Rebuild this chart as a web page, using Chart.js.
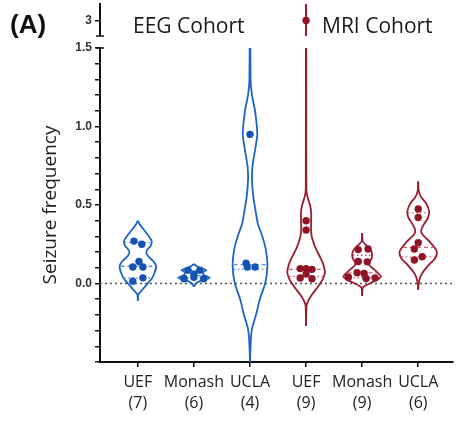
<!DOCTYPE html>
<html>
<head>
<meta charset="utf-8">
<script src="https://cdn.jsdelivr.net/npm/chart.js@4/dist/chart.umd.min.js"></script>
<style>
  html, body { margin: 0; padding: 0; background: #fff; }
  #wrap { position: relative; width: 457px; height: 422px; }
  #mainCanvas, #topCanvas { position: absolute; left: 0; top: 0; }
  #topCanvas { z-index: 2; }
</style>
</head>
<body>
<div id="wrap">
  <canvas id="mainCanvas" width="457" height="422"></canvas>
  <canvas id="topCanvas" width="457" height="40"></canvas>
</div>
<script>
// categories
var sites = ['UEF', 'Monash', 'UCLA', 'UEF', 'Monash', 'UCLA'];
var counts = [7, 6, 4, 9, 9, 6];
var cohortOf = [0, 0, 0, 1, 1, 1];
var cohortNames = ['EEG Cohort', 'MRI Cohort'];
var yTickLabels = [0, 0.5, 1.0, 1.5];
var topTickLabels = [3];

// seizure frequency per subject + horizontal jitter in category units
var uefEegValues = [0.27, 0.25, 0.14, 0.105, 0.105, 0.036, 0.015];
var uefEegJitter = [-0.07, 0.07, 0.02, -0.09, 0.09, 0.09, -0.09];
var monashEegValues = [0.085, 0.085, 0.06, 0.04, 0.03, 0.03];
var monashEegJitter = [-0.105, 0.105, 0, 0, -0.175, 0.175];
var uclaEegValues = [0.95, 0.13, 0.105, 0.105];
var uclaEegJitter = [0, -0.07, 0.09, -0.05];
var uefMriValues = [3.0, 0.40, 0.34, 0.095, 0.095, 0.09, 0.06, 0.035, 0.03];
var uefMriJitter = [0, 0, 0, -0.105, 0, 0.105, 0, -0.105, 0.105];
var monashMriValues = [0.216, 0.22, 0.14, 0.138, 0.068, 0.064, 0.04, 0.032, 0.036];
var monashMriJitter = [-0.07, 0.105, -0.07, 0.09, -0.09, 0.035, -0.245, 0.07, 0.23];
var uclaMriValues = [0.475, 0.42, 0.26, 0.22, 0.17, 0.15];
var uclaMriJitter = [0, 0, 0, -0.07, 0.07, -0.07];

// violin outlines: levels (y) and half widths (category units)
var uefEegLevels = [0.40, 0.38, 0.35, 0.31, 0.27, 0.24, 0.215, 0.195, 0.17, 0.14, 0.11, 0.07, 0.03, 0.0, -0.04, -0.07, -0.11];
var uefEegWidths = [0, 0.026, 0.088, 0.176, 0.247, 0.229, 0.168, 0.15, 0.194, 0.282, 0.326, 0.3, 0.247, 0.176, 0.08, 0.009, 0];
var monashEegLevels = [0.125, 0.11, 0.1, 0.085, 0.07, 0.055, 0.036, 0.025, 0.015, 0.0, -0.02];
var monashEegWidths = [0, 0.053, 0.106, 0.22, 0.159, 0.176, 0.282, 0.194, 0.106, 0.035, 0];
var uclaEegLevels = [1.9, 1.3, 1.2, 1.1, 0.95, 0.85, 0.75, 0.66, 0.55, 0.45, 0.38, 0.3, 0.22, 0.11, 0.0, -0.1, -0.19, -0.29, -0.36, -0.5, -0.6];
var uclaEegWidths = [0, 0.01, 0.035, 0.09, 0.13, 0.09, 0.045, 0.035, 0.06, 0.105, 0.14, 0.22, 0.28, 0.31, 0.27, 0.175, 0.115, 0.035, 0.015, 0, 0];
var uefMriLevels = [3.6, 0.6, 0.55, 0.5, 0.45, 0.38, 0.32, 0.27, 0.22, 0.17, 0.12, 0.07, 0.03, -0.02, -0.07, -0.1, -0.14, -0.27];
var uefMriWidths = [0, 0.005, 0.026, 0.07, 0.092, 0.088, 0.092, 0.123, 0.176, 0.247, 0.309, 0.335, 0.3, 0.212, 0.106, 0.053, 0.009, 0];
var monashMriLevels = [0.32, 0.27, 0.25, 0.22, 0.19, 0.16, 0.135, 0.115, 0.09, 0.06, 0.045, 0.025, 0.005, -0.015, -0.03, -0.08];
var monashMriWidths = [0, 0.009, 0.053, 0.141, 0.176, 0.168, 0.123, 0.132, 0.212, 0.3, 0.335, 0.282, 0.159, 0.053, 0.009, 0];
var uclaMriLevels = [0.65, 0.59, 0.55, 0.51, 0.46, 0.42, 0.38, 0.34, 0.31, 0.27, 0.22, 0.195, 0.16, 0.12, 0.08, 0.04, 0.0, -0.04];
var uclaMriWidths = [0, 0.009, 0.053, 0.141, 0.194, 0.176, 0.106, 0.053, 0.079, 0.194, 0.309, 0.335, 0.3, 0.194, 0.097, 0.035, 0.009, 0];

// quartiles [q1, median, q3]
var uefEegQuart = [0.035, 0.11, 0.26];
var monashEegQuart = [0.035, 0.05, 0.08];
var uclaEegQuart = [0.09, 0.12, 0.74];
var uefMriQuart = [0.045, 0.09, 0.36];
var monashMriQuart = [0.036, 0.068, 0.18];
var uclaMriQuart = [0.17, 0.23, 0.45];

var groups = [
    { values: uefEegValues, jitter: uefEegJitter, levels: uefEegLevels, widths: uefEegWidths, quart: uefEegQuart },
    { values: monashEegValues, jitter: monashEegJitter, levels: monashEegLevels, widths: monashEegWidths, quart: monashEegQuart },
    { values: uclaEegValues, jitter: uclaEegJitter, levels: uclaEegLevels, widths: uclaEegWidths, quart: uclaEegQuart },
    { values: uefMriValues, jitter: uefMriJitter, levels: uefMriLevels, widths: uefMriWidths, quart: uefMriQuart },
    { values: monashMriValues, jitter: monashMriJitter, levels: monashMriLevels, widths: monashMriWidths, quart: monashMriQuart },
    { values: uclaMriValues, jitter: uclaMriJitter, levels: uclaMriLevels, widths: uclaMriWidths, quart: uclaMriQuart }
];

var X_MIN = 0.325, X_MAX = 6.62;
var palette = [
    { line: '#1f63c6', dot: '#1553b3', quart: '#5d95e2' },   // EEG blue
    { line: '#9b1b30', dot: '#8f1426', quart: '#c8606f' }    // MRI dark red
];

function widthAt(levels, widths, v) {
    for (var i = 0; i < levels.length - 1; i++) {
        var a = levels[i], b = levels[i + 1];
        if (v <= a && v >= b) {
            var t = (a - v) / (a - b);
            return widths[i] + t * (widths[i + 1] - widths[i]);
        }
    }
    return 0;
}

function buildDatasets() {
    var ds = [];
    groups.forEach(function (g, i) {
        var c = i + 1;
        var col = palette[cohortOf[i]];

        // dots first so they sit on top
        ds.push({
            data: g.values.map(function (v, k) { return { x: c + g.jitter[k], y: v }; }),
            showLine: false,
            pointRadius: 3.7,
            pointBackgroundColor: col.dot,
            pointBorderWidth: 0
        });

        // median (dashed) and quartiles (dotted)
        g.quart.forEach(function (q, k) {
            var hw = widthAt(g.levels, g.widths, q) * 0.95;
            ds.push({
                data: [{ x: c - hw, y: q }, { x: c + hw, y: q }],
                showLine: true,
                borderColor: col.quart,
                borderWidth: 1.3,
                borderDash: k === 1 ? [4, 3] : [1.5, 2.5],
                pointRadius: 0
            });
        });

        // outline: right and left halves
        var right = g.levels.map(function (v, k) { return { x: c + g.widths[k], y: v }; });
        var left = g.levels.map(function (v, k) { return { x: c - g.widths[k], y: v }; }).reverse();
        [right, left].forEach(function (half) {
            ds.push({
                data: half,
                showLine: true,
                borderColor: col.line,
                borderWidth: 1.8,
                pointRadius: 0,
                tension: 0.2
            });
        });

        // long thin tail running past the top of the axis
        var top = g.levels[0];
        if (top > 1.5) {
            ds.push({
                data: [{ x: c, y: g.levels[1] }, { x: c, y: top }],
                showLine: true,
                borderColor: col.line,
                borderWidth: 1.8,
                pointRadius: 0
            });
        }
    });

    // dotted zero reference line (drawn underneath)
    ds.push({
        data: [{ x: X_MIN, y: 0 }, { x: X_MAX, y: 0 }],
        showLine: true,
        borderColor: '#555',
        borderWidth: 1.5,
        borderDash: [2, 3],
        pointRadius: 0
    });
    return ds;
}

Chart.defaults.font.family = 'Open Sans';

var axisGrid = { drawOnChartArea: false, drawTicks: true, tickLength: 5, color: '#111', lineWidth: 1.5 };
var axisBorder = { color: '#111', width: 2 };
var numFont = { family: 'Liberation Sans', size: 12, weight: 'bold' };

var capPlugin = {
    id: 'axisCaps',
    afterDraw: function (chart, args, opts) {
        var ctx = chart.ctx, a = chart.chartArea;
        ctx.save();
        ctx.strokeStyle = '#111';
        ctx.lineWidth = 1.5;
        ctx.beginPath();
        var y = opts.where === 'bottom' ? a.bottom : a.top;
        ctx.moveTo(a.left - 4, y);
        ctx.lineTo(a.left + 4, y);
        ctx.stroke();
        ctx.restore();
    }
};

// main plot
new Chart(document.getElementById('mainCanvas').getContext('2d'), {
    type: 'scatter',
    data: { datasets: buildDatasets() },
    options: {
        responsive: false,
        animation: false,
        events: [],
        layout: { padding: { top: 48, left: 0, right: 0, bottom: 0 } },
        plugins: { legend: { display: false }, tooltip: { enabled: false }, axisCaps: { where: 'top' } },
        scales: {
            x: {
                type: 'linear',
                min: X_MIN,
                max: X_MAX,
                afterBuildTicks: function (s) {
                    s.ticks = sites.map(function (n, i) { return { value: i + 1 }; });
                },
                afterFit: function (s) { s.height = 60; },
                ticks: {
                    autoSkip: false,
                    maxRotation: 0,
                    padding: 5,
                    color: '#222',
                    font: { family: 'Open Sans', size: 16, lineHeight: 1.3 },
                    callback: function (v) {
                        return [sites[v - 1], '(' + counts[v - 1] + ')'];
                    }
                },
                grid: axisGrid,
                border: axisBorder
            },
            y: {
                min: -0.5,
                max: 1.5,
                afterFit: function (s) { s.width = 100; },
                ticks: {
                    stepSize: 0.1,
                    maxTicksLimit: 40,
                    autoSkip: false,
                    padding: 3,
                    color: '#333',
                    font: numFont,
                    callback: function (v) {
                        var hit = yTickLabels.some(function (t) { return Math.abs(t - v) < 1e-6; });
                        return hit ? Number(v).toFixed(1) : '';
                    }
                },
                grid: axisGrid,
                border: axisBorder,
                title: {
                    display: true,
                    text: 'Seizure frequency',
                    color: '#222',
                    font: { family: 'Open Sans', size: 19 },
                    padding: { top: 39, bottom: 0 }
                }
            }
        }
    },
    plugins: [capPlugin]
});

// broken-axis top segment + panel label and cohort headings
var headingPlugin = {
    id: 'headings',
    afterDraw: function (chart) {
        var ctx = chart.ctx;
        ctx.save();
        ctx.fillStyle = '#111';
        ctx.textBaseline = 'alphabetic';
        ctx.font = 'bold 26px "Liberation Sans"';
        ctx.fillText('(A)', 10, 32.5);
        ctx.fillStyle = '#1a1a1a';
        ctx.font = '21px "Open Sans"';
        ctx.fillText(cohortNames[0], 133, 32.5);
        ctx.fillText(cohortNames[1], 322, 32.5);
        ctx.restore();
    }
};

new Chart(document.getElementById('topCanvas').getContext('2d'), {
    type: 'scatter',
    data: { datasets: buildDatasets() },
    options: {
        responsive: false,
        animation: false,
        events: [],
        layout: { padding: { top: 0, left: 0, right: 0, bottom: 3 } },
        plugins: { legend: { display: false }, tooltip: { enabled: false }, axisCaps: { where: 'bottom' } },
        scales: {
            x: { type: 'linear', min: X_MIN, max: X_MAX, display: false },
            y: {
                min: 2.58,
                max: 3.45,
                afterFit: function (s) {
                    s.width = 100;
                    // the single "3" label sits mid-axis, so no room needed above/below
                    s.paddingTop = 0;
                    s.paddingBottom = 0;
                },
                afterBuildTicks: function (s) {
                    s.ticks = topTickLabels.map(function (v) { return { value: v }; });
                },
                ticks: { padding: 3, color: '#333', font: numFont, callback: function (v) { return String(v); } },
                grid: axisGrid,
                border: axisBorder
            }
        }
    },
    plugins: [capPlugin, headingPlugin]
});
</script>
</body>
</html>
